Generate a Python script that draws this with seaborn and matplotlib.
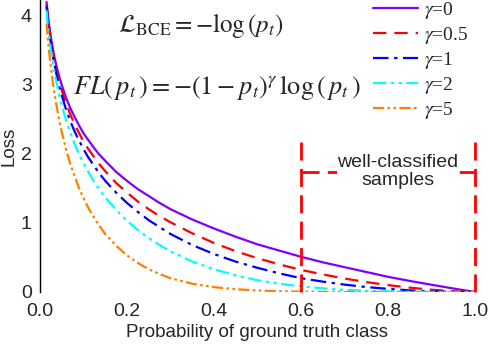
import matplotlib
matplotlib.use("Agg")
import matplotlib.pyplot as plt
import seaborn as sns
import pandas as pd

p_t = [0.015, 0.018, 0.02, 0.025, 0.03, 0.035, 0.04, 0.045, 0.05, 0.06, 0.07, 0.08,
       0.09, 0.10, 0.11, 0.125, 0.135, 0.15, 0.175, 0.20, 0.225, 0.25, 0.275, 0.30,
       0.35, 0.40, 0.45, 0.50, 0.55, 0.60, 0.65, 0.70, 0.75, 0.80, 0.85, 0.90, 0.95, 1.00]
loss_g0 = [4.20, 4.02, 3.91, 3.69, 3.51, 3.35, 3.22, 3.10, 3.00, 2.81, 2.66, 2.53,
           2.41, 2.30, 2.21, 2.08, 2.00, 1.90, 1.74, 1.61, 1.49, 1.39, 1.29, 1.20,
           1.05, 0.92, 0.80, 0.69, 0.60, 0.51, 0.43, 0.36, 0.29, 0.22, 0.16, 0.105, 0.051, 0.0]
loss_g05 = [4.17, 3.98, 3.87, 3.64, 3.45, 3.29, 3.15, 3.03, 2.92, 2.73, 2.57, 2.42,
            2.30, 2.18, 2.08, 1.95, 1.86, 1.75, 1.58, 1.44, 1.31, 1.20, 1.10, 1.01,
            0.85, 0.71, 0.59, 0.49, 0.40, 0.32, 0.255, 0.195, 0.144, 0.10, 0.063, 0.033, 0.012, 0.0]
loss_g1 = [4.14, 3.95, 3.83, 3.60, 3.40, 3.24, 3.09, 2.96, 2.85, 2.64, 2.47, 2.32,
           2.19, 2.07, 1.96, 1.82, 1.73, 1.61, 1.44, 1.29, 1.16, 1.04, 0.94, 0.84,
           0.68, 0.55, 0.44, 0.35, 0.27, 0.20, 0.15, 0.107, 0.072, 0.045, 0.024, 0.010, 0.003, 0.0]
loss_g2 = [4.08, 3.87, 3.76, 3.51, 3.30, 3.12, 2.97, 2.83, 2.70, 2.49, 2.30, 2.14,
           1.99, 1.87, 1.75, 1.59, 1.50, 1.37, 1.19, 1.03, 0.90, 0.78, 0.68, 0.59,
           0.44, 0.33, 0.24, 0.17, 0.12, 0.082, 0.053, 0.032, 0.018, 0.009, 0.004, 0.001, 0.0, 0.0]
loss_g5 = [3.89, 3.67, 3.54, 3.25, 3.01, 2.81, 2.63, 2.46, 2.32, 2.06, 1.85, 1.67,
           1.50, 1.36, 1.23, 1.07, 0.97, 0.84, 0.67, 0.53, 0.42, 0.33, 0.26, 0.20,
           0.12, 0.071, 0.040, 0.022, 0.011, 0.005, 0.002, 0.001, 0.0, 0.0, 0.0, 0.0, 0.0, 0.0]

labels = [r"$\gamma$=0", r"$\gamma$=0.5", r"$\gamma$=1", r"$\gamma$=2", r"$\gamma$=5"]
series = [loss_g0, loss_g05, loss_g1, loss_g2, loss_g5]
colors = ["#8000ff", "#ff0000", "#0000ff", "#00ffff", "#ff8000"]
styles = ["-", (0, (6, 3.6)), (0, (7, 2.5, 1.5, 2.5)), (0, (6, 2, 1.5, 2, 1.5, 2)),
          (0, (5, 1.5, 1.2, 1.5, 1.2, 1.5))]

sns.set_style("white")
plt.rcParams["font.family"] = ["Liberation Sans", "DejaVu Sans"]
plt.rcParams["mathtext.fontset"] = "stix"

fig = plt.figure(figsize=(4.88, 3.44), dpi=100)
ax = fig.add_axes([40 / 488, 1 - 292 / 344, 435 / 488, 292 / 344])

for lab, ys, c, ls in zip(labels, series, colors, styles):
    df = pd.DataFrame({"p": p_t, "loss": ys})
    sns.lineplot(data=df, x="p", y="loss", ax=ax, color=c, linestyle=ls,
                 linewidth=1.6, label=lab)

# well-classified region box
box_ls = (0, (6.5, 3))
ax.plot([0.6, 0.6], [0, 2.25], color="red", linestyle=box_ls, lw=2, clip_on=False)
ax.plot([1.0, 1.0], [0, 2.25], color="red", linestyle=box_ls, lw=2, clip_on=False)
ax.plot([0.6, 1.0], [1.74, 1.74], color="red", linestyle=box_ls, lw=2, clip_on=False)
ax.text(0.823, 1.75, "well-classified\nsamples", ha="center", va="center",
        fontsize=14, linespacing=1.1,
        bbox=dict(facecolor="white", edgecolor="none", pad=0.5), zorder=5)

ax.text(0.37, 3.86, r"$\mathcal{L}_{\mathrm{BCE}}=-\log\left(p_t\right)$",
        ha="center", va="center", fontsize=18)
ax.text(0.407, 2.96,
        r"$FL\left(\,p_t\,\right)=-\left(1-p_t\right)^{\gamma}\,\log\left(\,p_t\,\right)$",
        ha="center", va="center", fontsize=19)

ax.set_xlim(0, 1.0)
ax.set_ylim(0, 4.23)
ax.set_xticks([0.0, 0.2, 0.4, 0.6, 0.8, 1.0])
ax.set_xticklabels(["0.0", "0.2", "0.4", "0.6", "0.8", "1.0"])
ax.set_yticks([0, 1, 2, 3, 4])
ax.set_yticks([0.5], minor=True)
ax.tick_params(axis="both", which="both", direction="in", length=5, width=1,
               labelsize=14, color="black")
ax.tick_params(axis="y", pad=6)
ax.tick_params(axis="x", pad=8)
ax.set_xlabel("Probability of ground truth class", fontsize=13.5, labelpad=3)
ax.set_ylabel("Loss", fontsize=13.5, labelpad=2)

sns.despine(ax=ax, top=True, right=True, bottom=True)
ax.spines["left"].set_color("black")
ax.spines["left"].set_linewidth(1)

leg = ax.legend(loc="upper left", bbox_to_anchor=(373 / 488, 1.0),
                bbox_transform=fig.transFigure, frameon=False,
                prop={"family": "Liberation Serif", "size": 14},
                handlelength=2.3, handletextpad=0.3, labelspacing=0.2,
                borderaxespad=0, borderpad=0)

fig.savefig("out.png", dpi=100)
